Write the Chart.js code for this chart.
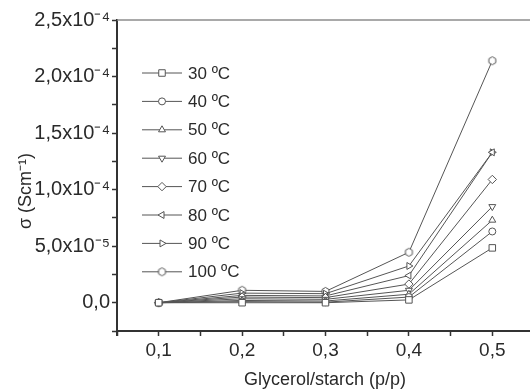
<!DOCTYPE html>
<html>
<head>
<meta charset="utf-8">
<script src="https://cdn.jsdelivr.net/npm/chart.js@4.4.0/dist/chart.umd.min.js"></script>
<style>
  html, body { margin: 0; padding: 0; background: #fff; overflow: hidden; }
  #wrap { width: 600px; height: 392px; }
</style>
</head>
<body>
<div id="wrap"><canvas id="sigmaChart" width="600" height="392"></canvas></div>
<script>
// glycerol/starch ratio (p/p)
var ratios = [0.1, 0.2, 0.3, 0.4, 0.5];
var tempLabels = ['30 ºC', '40 ºC', '50 ºC', '60 ºC', '70 ºC', '80 ºC', '90 ºC', '100 ºC'];

// conductivity values (S/cm)
var s30  = [0, 0.0e-5, 0.0e-5, 0.25e-5, 4.85e-5];
var s40  = [0, 0.1e-5, 0.05e-5, 0.5e-5, 6.3e-5];
var s50  = [0, 0.2e-5, 0.15e-5, 0.75e-5, 7.3e-5];
var s60  = [0, 0.35e-5, 0.3e-5, 1.1e-5, 8.5e-5];
var s70  = [0, 0.5e-5, 0.45e-5, 1.65e-5, 10.9e-5];
var s80  = [0, 0.65e-5, 0.6e-5, 2.4e-5, 13.3e-5];
var s90  = [0, 0.85e-5, 0.8e-5, 3.25e-5, 13.3e-5];
var s100 = [0, 1.1e-5, 1.0e-5, 4.46e-5, 21.4e-5];

var yTickNames = { 0: '0,0', 2: '5,0x10⁻⁵', 4: '1,0x10⁻⁴', 6: '1,5x10⁻⁴', 8: '2,0x10⁻⁴', 10: '2,5x10⁻⁴' };

var lineColor = '#555';
var textColor = '#2a2a2a';
var fontFam = '"Liberation Sans", Arial, sans-serif';

// hexagon marker for 100 ºC (no built in style for it)
var hex = document.createElement('canvas');
hex.width = 11; hex.height = 11;
var hctx = hex.getContext('2d');
hctx.beginPath();
for (var i = 0; i < 6; i++) {
    var a = Math.PI / 6 + i * Math.PI / 3;
    var px = 5.5 + 4 * Math.cos(a), py = 5.5 + 4 * Math.sin(a);
    if (i === 0) hctx.moveTo(px, py); else hctx.lineTo(px, py);
}
hctx.closePath();
hctx.fillStyle = '#fff';
hctx.fill();
hctx.strokeStyle = lineColor;
hctx.lineWidth = 1;
hctx.stroke();

var series = [s30, s40, s50, s60, s70, s80, s90, s100];
var styles = ['rect', 'circle', 'triangle', 'triangle', 'rectRot', 'triangle', 'triangle', hex];
var rotations = [0, 0, 0, 180, 0, 270, 90, 0];
var radii = [4.6, 3.5, 4, 4, 4.2, 4, 4, 4];

var datasets = series.map(function (s, k) {
    return {
        label: tempLabels[k],
        data: s.map(function (v, j) { return { x: ratios[j], y: v }; }),
        borderColor: lineColor,
        borderWidth: 1,
        backgroundColor: '#fff',
        pointStyle: styles[k],
        pointRotation: rotations[k],
        pointRadius: radii[k],
        pointBorderWidth: 1,
        pointBorderColor: lineColor,
        pointBackgroundColor: '#fff',
        tension: 0
    };
});

// legend with line-marker-line samples, axis titles and the top frame line
var extras = {
    id: 'extras',
    afterDraw: function (chart) {
        var ctx = chart.ctx;
        var area = chart.chartArea;
        ctx.save();
        ctx.strokeStyle = '#8c8c8c';
        ctx.lineWidth = 1.5;
        ctx.beginPath();
        ctx.moveTo(area.left, area.top);
        ctx.lineTo(area.right, area.top);
        ctx.stroke();

        // left axis runs a little past the bottom axis
        ctx.strokeStyle = '#333';
        ctx.lineWidth = 2;
        ctx.beginPath();
        ctx.moveTo(area.left, area.bottom);
        ctx.lineTo(area.left, area.bottom + 5);
        ctx.stroke();

        chart.data.datasets.forEach(function (ds, k) {
            var y = 73 + k * 28.4;
            ctx.strokeStyle = lineColor;
            ctx.lineWidth = 1;
            ctx.beginPath();
            ctx.moveTo(142, y);
            ctx.lineTo(182, y);
            ctx.stroke();
            ctx.fillStyle = '#fff';
            ctx.strokeStyle = lineColor;
            if (Chart.helpers && Chart.helpers.drawPoint) {
                Chart.helpers.drawPoint(ctx, {
                    pointStyle: ds.pointStyle,
                    rotation: ds.pointRotation,
                    radius: ds.pointRadius,
                    borderWidth: 1
                }, 162, y);
            } else {
                ctx.beginPath();
                ctx.arc(162, y, 3.5, 0, Math.PI * 2);
                ctx.fill();
                ctx.stroke();
            }
            ctx.fillStyle = textColor;
            ctx.font = '17px ' + fontFam;
            ctx.textAlign = 'left';
            ctx.textBaseline = 'middle';
            ctx.fillText(ds.label, 188, y + 1);
        });

        ctx.fillStyle = textColor;
        ctx.font = '18px ' + fontFam;
        ctx.textAlign = 'center';
        ctx.textBaseline = 'middle';
        ctx.fillText('Glycerol/starch (p/p)', 325, 380);

        ctx.translate(26, 191);
        ctx.rotate(-Math.PI / 2);
        ctx.fillText('σ (Scm⁻¹)', 0, 0);
        ctx.restore();
    }
};

var ctx = document.getElementById('sigmaChart').getContext('2d');
var sigmaChart = new Chart(ctx, {
    type: 'line',
    data: { datasets: datasets },
    options: {
        responsive: false,
        animation: false,
        layout: { padding: { top: 20, right: 66, left: 0, bottom: 0 } },
        plugins: {
            legend: { display: false },
            tooltip: { enabled: false }
        },
        scales: {
            x: {
                type: 'linear',
                min: 0.05,
                max: 0.55,
                afterFit: function (scale) { scale.height = 61; },
                border: { color: '#333', width: 2 },
                grid: { drawOnChartArea: false, tickLength: 5, tickColor: '#333', tickWidth: 1.5 },
                ticks: {
                    stepSize: 0.05,
                    padding: 3,
                    color: textColor,
                    font: { family: fontFam, size: 19 },
                    maxRotation: 0,
                    autoSkip: false,
                    callback: function (v) {
                        var n = Math.round(v * 100);
                        if (n % 10 !== 0) return '';
                        return (n / 100).toFixed(1).replace('.', ',');
                    }
                }
            },
            y: {
                min: -2.5e-5,
                max: 2.5e-4,
                afterFit: function (scale) { scale.width = 117; },
                border: { color: '#333', width: 2 },
                grid: { drawOnChartArea: false, tickLength: 5, tickColor: '#333', tickWidth: 1.5 },
                ticks: {
                    stepSize: 2.5e-5,
                    padding: 2,
                    color: textColor,
                    font: { family: fontFam, size: 20 },
                    autoSkip: false,
                    callback: function (v) {
                        var n = Math.round(v / 2.5e-5);
                        return yTickNames[n] || '';
                    }
                }
            }
        }
    },
    plugins: [extras]
});
</script>
</body>
</html>
